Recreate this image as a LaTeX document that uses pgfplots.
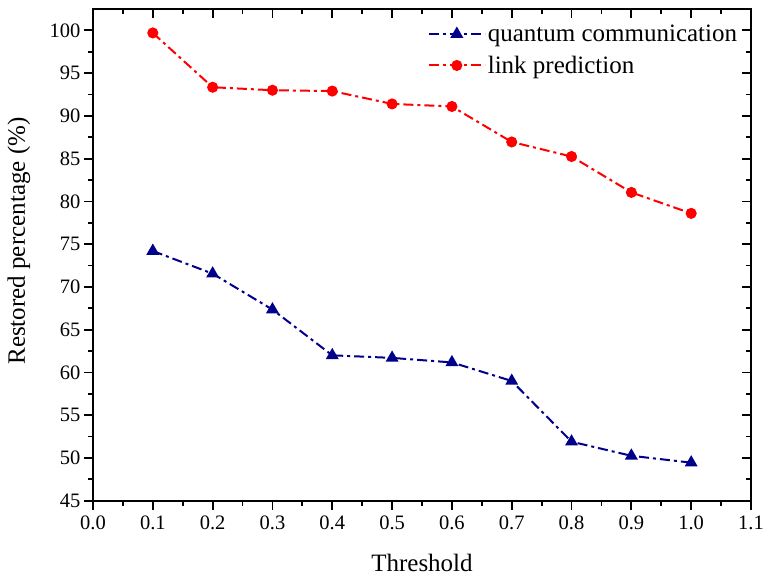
\documentclass[border=0pt]{standalone}
\usepackage{fontspec}
\setmainfont{Liberation Serif}
\usepackage{pgfplots}
\pgfplotsset{compat=1.18}
\definecolor{qblue}{RGB}{0,0,139}
\definecolor{lred}{RGB}{255,0,0}
\begin{document}
\begin{tikzpicture}
\path[use as bounding box] (-93pt,-75.3pt) rectangle (670pt,500.7pt);
\pgfplotsset{common/.style={
  width=658pt, height=491.7pt, scale only axis,
  at={(0pt,0pt)}, anchor=south west,
  xmin=0, xmax=1.1, ymin=45, ymax=102.5,
  xtick={0,0.1,0.2,0.3,0.4,0.5,0.6,0.7,0.8,0.9,1.0,1.1},
  ytick={45,50,55,60,65,70,75,80,85,90,95,100},
  minor x tick num=1, minor y tick num=1,
  axis line style={line width=2.2pt},
  major tick length=9pt, minor tick length=5pt,
  tick style={black, line width=1.8pt},
}}
\begin{axis}[common,
  tick align=outside, xtick pos=bottom, ytick pos=left,
  /pgf/number format/assume math mode=true,
  tick label style={font=\fontsize{20.5}{24}\selectfont},
  x tick label style={/pgf/number format/fixed, /pgf/number format/fixed zerofill, /pgf/number format/precision=1, yshift=-3pt},
  xlabel={Threshold},
  ylabel={Restored percentage (\%)},
  label style={font=\fontsize{25}{30}\selectfont},
  xlabel style={at={(axis description cs:0.5,0)}, anchor=base, yshift=-71pt},
  ylabel style={at={([xshift=-68pt]axis description cs:0,0.528)}, anchor=base},
  legend style={draw=none, fill=none, at={(axis description cs:0.504,0.976)}, anchor=north west,
    font=\fontsize{25}{30}\selectfont, row sep=9pt},
  legend cell align=left,
  legend image code/.code={\draw[mark repeat=2,mark phase=2,#1] plot coordinates {(0pt,0pt) (28pt,0pt) (56pt,0pt)};},
]
\addplot[qblue, line width=2pt, dash pattern=on 10pt off 4pt on 3pt off 4pt,
  mark=triangle*, mark size=5.5pt, mark options={solid}]
  coordinates {(0.1,74.2) (0.2,71.55) (0.3,67.35) (0.4,62.0) (0.5,61.7) (0.6,61.17) (0.7,59.0) (0.8,51.9) (0.9,50.25) (1.0,49.45)};
\addlegendentry{quantum communication}
\addplot[lred, line width=2pt, dash pattern=on 10pt off 4pt on 3pt off 4pt,
  mark=*, mark size=4.5pt, mark options={solid}]
  coordinates {(0.1,99.7) (0.2,93.35) (0.3,93.0) (0.4,92.9) (0.5,91.4) (0.6,91.1) (0.7,86.95) (0.8,85.25) (0.9,81.05) (1.0,78.6)};
\addlegendentry{link prediction}
\end{axis}
\begin{axis}[common,
  tick align=inside, xtick pos=top, ytick pos=right,
  xticklabels={}, yticklabels={},
]
\end{axis}
\end{tikzpicture}
\end{document}
